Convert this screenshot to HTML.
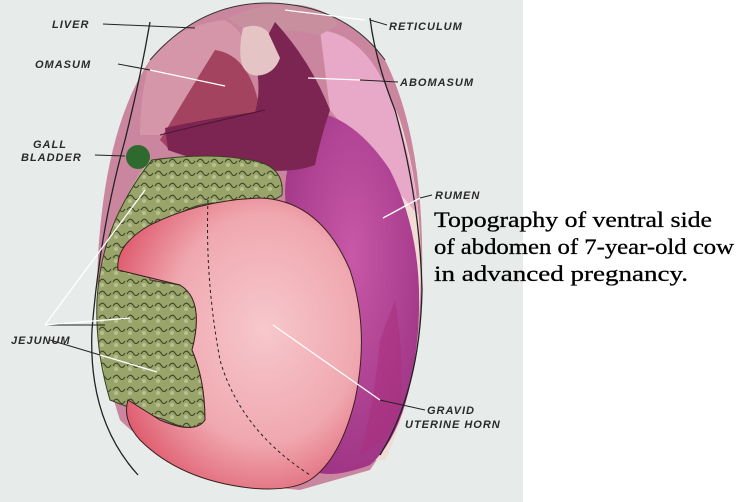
<!DOCTYPE html>
<html><head><style>
html,body{margin:0;padding:0;background:#fff;}
svg{display:block;}
.l{font-family:"Liberation Sans",sans-serif;font-size:11px;font-style:italic;font-weight:bold;fill:#2a2a2a;letter-spacing:1px;}
.c{font-family:"Liberation Serif",serif;font-size:22px;fill:#000;stroke:#000;stroke-width:0.3;}
</style></head><body>
<svg width="747" height="502" viewBox="0 0 747 502" xmlns="http://www.w3.org/2000/svg">
<defs>
<radialGradient id="ut" cx="0.6" cy="0.45" r="0.65">
<stop offset="0" stop-color="#f6c8cc"/><stop offset="0.6" stop-color="#f0a8b0"/><stop offset="1" stop-color="#de5a6c"/>
</radialGradient>
<radialGradient id="ru" cx="0.5" cy="0.4" r="0.7">
<stop offset="0" stop-color="#c858a8"/><stop offset="1" stop-color="#9a3080"/>
</radialGradient>
<pattern id="cu" width="14" height="12" patternUnits="userSpaceOnUse">
<rect width="14" height="12" fill="#98a46a"/>
<path d="M1,6 Q4,1 7,5 Q10,10 13,5" stroke="#3e4526" stroke-width="1.1" fill="none"/>
<circle cx="4" cy="9" r="2" fill="#b8c090"/>
</pattern>
</defs>
<rect x="0" y="0" width="523" height="502" fill="#e7ecea"/>
<path d="M150,60 Q200,2 270,3 Q345,5 385,60 Q425,140 422,280 Q420,400 370,470 L300,490 Q180,480 120,420 Q90,330 100,230 Q110,120 150,60Z" fill="#c9869e"/>
<path d="M320,30 Q370,40 400,120 Q425,200 420,300 Q415,400 385,460 L370,460 Q400,300 400,200 Q390,100 320,30Z" fill="#f0dcd4"/>
<path d="M320,30 Q370,35 395,110 Q415,170 418,215 L330,110Z" fill="#e8a8c8"/>
<path d="M228,18 Q260,2 300,5 Q330,10 338,25 L320,35 Q290,28 265,32 Q240,30 228,18Z" fill="#c8909e"/>
<path d="M150,60 Q175,25 225,20 Q250,35 245,60 Q220,110 170,135 L140,135 Q140,95 150,60Z" fill="#d496a8"/>
<path d="M215,50 Q250,55 260,110 Q230,120 170,150 L160,140 Q190,90 215,50Z" fill="#a4435f"/>
<path d="M300,110 Q350,110 390,170 Q425,240 418,330 Q410,430 370,465 Q330,480 310,470 Q340,400 350,330 Q330,260 290,230 Q280,190 290,160 Q310,140 300,110Z" fill="url(#ru)"/>
<path d="M395,300 Q405,360 400,410 Q390,440 360,455 Q375,400 380,340Z" fill="#a8307e" opacity="0.6"/>
<path d="M275,22 Q310,60 330,110 Q320,140 315,165 Q290,175 240,168 Q200,162 168,150 L165,128 Q210,118 255,112 Q262,90 255,60Z" fill="#7c2452"/>
<path d="M160,135 Q200,125 265,110" stroke="#4a1a30" fill="none" stroke-width="1"/>
<path d="M243,28 Q258,22 268,32 L280,58 Q275,72 262,75 Q248,78 242,65 Q238,50 243,28Z" fill="#e4c4c4"/>
<path d="M150,160 Q125,190 110,240 Q98,290 100,330 L120,330 Q125,260 160,200Z" fill="#c6d2b0"/>
<path d="M152,160 Q210,152 250,160 Q285,165 282,195 Q270,205 230,203 Q190,200 165,225 Q145,250 150,280 L180,285 Q205,300 192,350 Q205,380 205,420 Q195,435 165,420 Q135,410 110,400 Q95,350 97,300 Q100,250 120,210 Q135,180 152,160Z" fill="url(#cu)" stroke="#3a4020" stroke-width="1"/>
<path d="M150,225 Q200,200 260,198 Q320,200 350,270 Q370,330 355,400 Q340,460 310,480 Q290,492 250,488 Q180,480 140,440 Q122,420 128,400 L160,420 Q195,435 205,420 Q205,380 192,350 Q205,300 180,285 L118,270 Q115,245 150,225Z" fill="url(#ut)" stroke="#3a2020" stroke-width="1"/>
<path d="M208,200 Q205,280 220,360 Q240,430 310,475" fill="none" stroke="#222" stroke-width="1" stroke-dasharray="3 3"/>
<circle cx="138" cy="157" r="12" fill="#2e6a2e"/>
<path d="M150,22 Q140,80 125,140 Q100,230 92,330 Q88,420 138,475" fill="none" stroke="#222" stroke-width="1.3"/>
<path d="M370,18 Q375,60 395,110 Q420,200 422,290 Q420,390 380,455" fill="none" stroke="#222" stroke-width="1.3"/>
<path d="M150,60 Q200,2 270,3 Q345,5 385,60" fill="none" stroke="#333" stroke-width="1"/>
<g stroke="#222" stroke-width="1" fill="none">
<line x1="103" y1="24" x2="195" y2="28"/>
<line x1="370" y1="20" x2="387" y2="25"/>
<line x1="118" y1="64" x2="150" y2="70"/>
<line x1="360" y1="80" x2="398" y2="82"/>
<line x1="95" y1="155" x2="125" y2="156"/>
<line x1="420" y1="198" x2="432" y2="195"/>
<line x1="45" y1="325" x2="105" y2="325"/>
<line x1="50" y1="340" x2="100" y2="355"/>
<line x1="380" y1="400" x2="425" y2="410"/>
</g>
<g stroke="#fff" stroke-width="1.3" fill="none">
<line x1="285" y1="10" x2="365" y2="20"/>
<line x1="150" y1="70" x2="225" y2="86"/>
<line x1="308" y1="78" x2="360" y2="80"/>
<line x1="383" y1="218" x2="420" y2="198"/>
<line x1="45" y1="325" x2="145" y2="190"/>
<line x1="45" y1="325" x2="130" y2="318"/>
<line x1="100" y1="355" x2="157" y2="372"/>
<line x1="273" y1="325" x2="380" y2="400"/>
</g>
<text class="l" x="52" y="28">LIVER</text>
<text class="l" x="389" y="30">RETICULUM</text>
<text class="l" x="35" y="68">OMASUM</text>
<text class="l" x="400" y="86">ABOMASUM</text>
<text class="l" x="33" y="148">GALL</text>
<text class="l" x="21" y="161">BLADDER</text>
<text class="l" x="435" y="199">RUMEN</text>
<text class="l" x="11" y="344">JEJUNUM</text>
<text class="l" x="427" y="414">GRAVID</text>
<text class="l" x="405" y="428">UTERINE HORN</text>
<text class="c" x="434" y="227" textLength="278" lengthAdjust="spacingAndGlyphs">Topography of ventral side</text>
<text class="c" x="434" y="254" textLength="300" lengthAdjust="spacingAndGlyphs">of abdomen of 7-year-old cow</text>
<text class="c" x="434" y="281" textLength="254" lengthAdjust="spacingAndGlyphs">in advanced pregnancy.</text>
</svg>
</body></html>
